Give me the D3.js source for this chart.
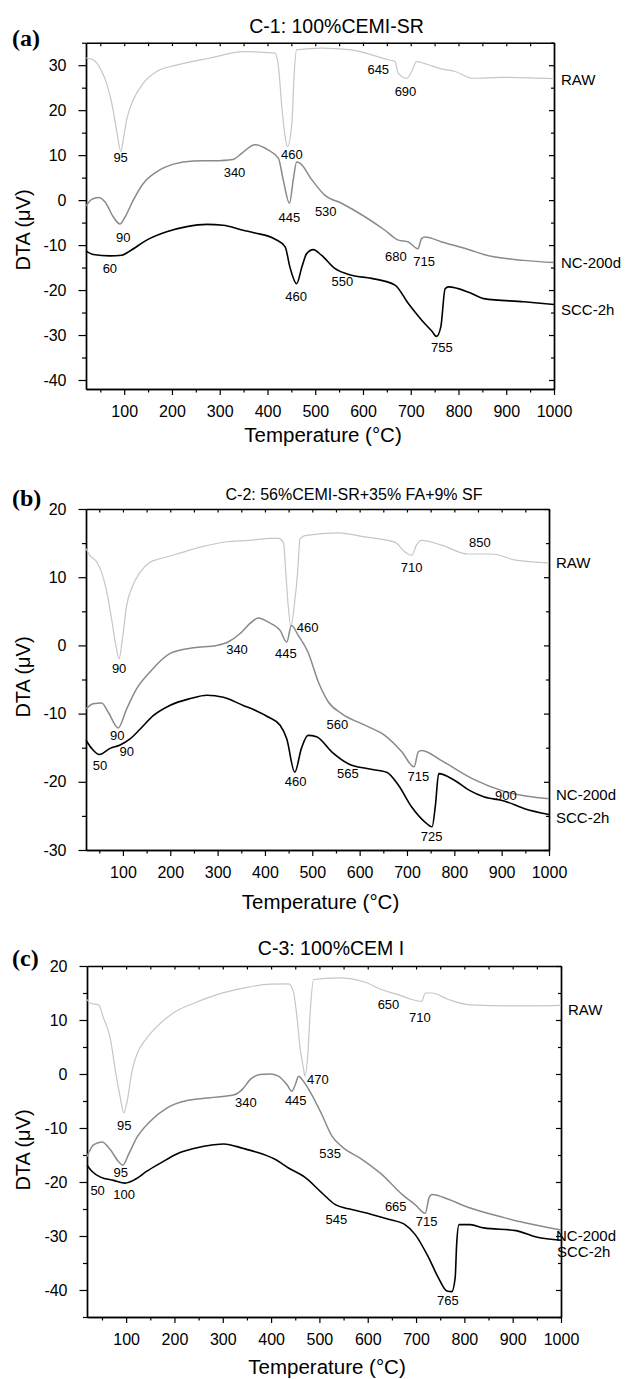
<!DOCTYPE html>
<html>
<head>
<meta charset="utf-8">
<script src="https://cdn.jsdelivr.net/npm/d3@7"></script>
<style>
  body { margin: 0; background: #fff; }
  svg text { font-family: "Liberation Sans", Arial, Helvetica, sans-serif; fill: #000; }
</style>
</head>
<body>
<svg id="fig" width="632" height="1379"></svg>
<script>
// ---- data ----
var seriesNames = ["RAW", "NC-200d", "SCC-2h"];
var panelTags = ["(a)", "(b)", "(c)"];
var panelTitles = ["C-1: 100%CEMI-SR", "C-2: 56%CEMI-SR+35% FA+9% SF", "C-3: 100%CEM I"];
var xMajorTicks = [100, 200, 300, 400, 500, 600, 700, 800, 900, 1000];
var xMinorTicks = [50, 150, 250, 350, 450, 550, 650, 750, 850, 950];

// C-1 : [temperature, DTA]
var c1Raw = [[20,31.6],[35,31.2],[53,28.6],[63,26],[74,21.5],[84,15.6],[93,10.8],[98,13.4],[105,17.8],[119,22.3],[140,26],[168,28.6],[210,30],[280,31.6],[349,33],[416,32.7],[423,29.7],[430,20.8],[437,14.1],[442,11.9],[451,17],[456,28.2],[461,33.4],[513,33.8],[576,33.4],[618,32.3],[653,31.2],[667,30.8],[674,28.2],[692,27.1],[702,28.6],[712,30.8],[737,30.1],[760,29.3],[793,28.6],[828,27.1],[895,27.3],[950,27.2],[1000,27]];
var c1Nc = [[20,-1.3],[32,0.15],[46,0.6],[60,-0.4],[77,-3.7],[91,-5.3],[102,-3.7],[119,0],[140,3.7],[168,6.3],[203,8],[245,8.7],[287,8.75],[328,9.05],[346,10.4],[374,12.3],[402,11.1],[423,9.3],[433,4.5],[446,-0.7],[454,4.5],[461,8.5],[468,8.2],[493,4.5],[520,1.1],[555,-0.7],[604,-3.7],[646,-6.7],[674,-8.9],[695,-9.3],[715,-10.8],[723,-8.5],[730,-8.2],[765,-9.3],[824,-11.1],[853,-12.1],[937,-13.4],[1000,-13.9]];
var c1Scc = [[20,-11.3],[35,-12.1],[70,-12.4],[95,-12.25],[112,-11.3],[147,-8.9],[189,-7.05],[231,-5.9],[273,-5.4],[307,-5.6],[349,-6.7],[374,-7.3],[416,-8.7],[437,-10.4],[447,-14.9],[461,-18.6],[472,-14.9],[482,-11.9],[496,-11],[513,-12.25],[541,-15.2],[576,-16.7],[618,-17.4],[667,-18.9],[695,-23],[723,-26.7],[744,-29.1],[754,-30.3],[763,-28.2],[772,-19.7],[779,-19.3],[824,-20.6],[853,-21.9],[937,-22.6],[1000,-23.2]];
var c1Peaks = [["95",92.5,9.5],["340",331,6.1],["90",98,-8.2],["60",70,-15.1],["460",451,10.2],["445",446,-3.9],["530",522,-2.6],["645",632,29.1],["690",689,24.3],["680",669,-12.6],["715",728,-13.6],["460",460,-21.4],["550",557,-18],["755",765,-32.7]];
var c1LabelAt = [26.9, -13.9, -24.3];
var c1YTicks = [-40, -30, -20, -10, 0, 10, 20, 30];

// C-2
var c2Raw = [[22,14.2],[30,13.2],[45,12.2],[55,10.7],[66,7.8],[76,3.9],[85,0],[92,-1.95],[99,1],[108,5.9],[118,8.3],[136,10.7],[157,12.2],[178,12.7],[214,13.4],[263,14.4],[319,15.2],[368,15.4],[411,15.7],[428,15.7],[439,15.1],[444,10.7],[449,5.9],[455,2.8],[462,5.9],[469,10.7],[474,15.6],[484,16.1],[555,16.5],[611,15.9],[675,15.1],[696,13.7],[710,13.2],[720,14.7],[731,15.4],[773,14.7],[829,13.4],[879,13.4],[930,12.5],[1000,12.1]];
var c2Nc = [[22,-9.3],[37,-8.55],[55,-8.45],[69,-9.8],[90,-12.1],[108,-9.3],[129,-6.35],[157,-3.9],[199,-1.2],[249,-0.35],[298,0],[322,0.5],[347,1.7],[368,3.2],[386,4],[407,3.4],[432,2.2],[446,0.5],[456,2.9],[470,1.5],[491,-1],[513,-5.4],[534,-8.3],[562,-10],[611,-11.7],[653,-13.2],[689,-15.6],[715,-17.8],[724,-15.6],[731,-15.4],[773,-16.9],[840,-19.6],[905,-21.4],[1000,-22.5]];
var c2Scc = [[22,-13.9],[34,-15.1],[50,-16],[73,-15.1],[94,-14.6],[115,-13.7],[136,-12.3],[164,-10.3],[199,-8.8],[242,-7.8],[277,-7.3],[312,-7.6],[354,-8.8],[379,-9.5],[407,-10.5],[432,-11.7],[446,-13.7],[463,-18.6],[477,-15.1],[491,-13.2],[509,-13.4],[541,-15.6],[576,-17.35],[618,-18.1],[657,-18.6],[682,-20.5],[710,-23.7],[738,-25.9],[753,-26.6],[760,-23.5],[767,-18.8],[801,-19.8],[833,-21.3],[862,-22.2],[905,-22.8],[947,-23.9],[1000,-24.8]];
var c2Peaks = [["90",92,-3.4],["340",341,-0.6],["445",444,-1.1],["460",490,2.7],["710",710,11.4],["850",854,15.1],["90",88,-13.2],["90",108,-15.6],["50",51.5,-17.6],["560",553,-11.6],["460",465,-20],["565",575,-18.8],["715",724,-19.2],["725",752,-28],["900",909,-22]];
var c2LabelAt = [12.1, -21.9, -25.3];
var c2YTicks = [-30, -20, -10, 0, 10, 20];

// C-3
var c3Raw = [[19,13.8],[26,13.1],[43,12.8],[53,10.4],[67,6.7],[78,0.5],[88,-4.4],[95,-7.2],[102,-5.1],[112,0.5],[122,3.6],[143,6.7],[171,9.4],[205,11.7],[240,13.1],[288,14.7],[343,15.9],[398,16.65],[436,16.7],[446,15.3],[453,11],[460,4.8],[467,1.1],[470,-0.4],[476,3.6],[481,11.6],[488,17.5],[539,17.8],[595,17],[629,15.6],[663,14.7],[691,13.8],[712,13.45],[719,15],[733,15],[767,13.8],[812,12.8],[900,12.6],[1000,12.7]];
var c3Nc = [[19,-15.3],[33,-13.1],[50,-12.6],[67,-14],[84,-16.2],[93,-16.9],[105,-14.9],[122,-11.8],[150,-8.75],[184,-6.3],[226,-4.9],[274,-4.4],[322,-3.9],[340,-2.9],[357,-1],[377,-0.1],[398,0],[415,-0.4],[433,-2],[443,-3.2],[450,-2],[457,-0.4],[464,-1],[484,-3.8],[505,-7.5],[526,-11.5],[546,-13.4],[588,-15.8],[629,-18.6],[671,-22.3],[698,-24.2],[719,-25.8],[727,-22.9],[733,-22.3],[767,-23.2],[799,-24.4],[882,-26.6],[923,-27.5],[1000,-28.9]];
var c3Scc = [[19,-16.9],[29,-18],[47,-19.1],[74,-19.7],[98,-20.2],[119,-19.5],[143,-18],[171,-16.5],[205,-14.8],[240,-13.8],[281,-13.1],[302,-12.95],[343,-13.8],[367,-14.4],[408,-15.8],[436,-17.4],[471,-19.2],[505,-22],[533,-24.2],[567,-25.1],[608,-26],[643,-26.9],[677,-27.9],[698,-29.7],[726,-34],[746,-37.7],[764,-40.2],[774,-40.3],[781,-37.7],[784,-31.6],[789,-27.9],[812,-27.9],[840,-28.5],[907,-29],[949,-30.2],[1000,-30.8]];
var c3Peaks = [["95",96,-9.5],["340",348,-5.2],["470",497,-0.9],["445",451,-4.9],["650",643,12.95],["710",708,10.5],["95",89,-18.2],["50",41,-21.5],["100",96,-22.3],["535",522,-14.7],["665",658,-24.5],["715",722,-27.3],["545",535,-26.9],["765",766,-42]];
var c3LabelAt = [11.9, -29.9, -32.8];
var c3YTicks = [-40, -30, -20, -10, 0, 10, 20];

// ---- layout ----
var lineColors = ["#c6c6c6", "#8a8a8a", "#000"];
var lineWidths = [1.2, 1.5, 1.6];

var panels = [
  { series: [c1Raw, c1Nc, c1Scc], peaks: c1Peaks, labelAt: c1LabelAt, yTicks: c1YTicks,
    xDomain: [20, 1000], yDomain: [-42, 35], left: 86, right: 554, top: 42.7, bottom: 389,
    titleX: 336.5, titleY: 32.5, titleSize: 19.5, tagY: 46.4, yTitleY: 230, xTitleY: 442, labelDx: [7, 7, 7] },
  { series: [c2Raw, c2Nc, c2Scc], peaks: c2Peaks, labelAt: c2LabelAt, yTicks: c2YTicks,
    xDomain: [22, 1000], yDomain: [-30, 20], left: 86, right: 549, top: 509, bottom: 850,
    titleX: 354, titleY: 500, titleSize: 16, tagY: 506.4, yTitleY: 677, xTitleY: 909, labelDx: [7, 7, 7] },
  { series: [c3Raw, c3Nc, c3Scc], peaks: c3Peaks, labelAt: c3LabelAt, yTicks: c3YTicks,
    xDomain: [19, 1000], yDomain: [-45, 20], left: 87, right: 561, top: 966, bottom: 1317,
    titleX: 331, titleY: 955, titleSize: 19.5, tagY: 966.4, yTitleY: 1150, xTitleY: 1374, labelDx: [7, -5, -4] }
];

var svg = d3.select("#fig");
var fmt = function(d) { return String(d); };

panels.forEach(function(p, pi) {
  var x = d3.scaleLinear().domain(p.xDomain).range([p.left, p.right]);
  var y = d3.scaleLinear().domain(p.yDomain).range([p.bottom, p.top]);
  var g = svg.append("g").attr("class", "panel");

  var yMinor = [];
  for (var v = Math.ceil(p.yDomain[0] / 5) * 5; v <= p.yDomain[1]; v += 5) {
    if (v % 10 !== 0) yMinor.push(v);
  }

  // bottom axis
  g.append("g").attr("transform", "translate(0," + p.bottom + ")")
    .call(d3.axisBottom(x).tickValues(xMinorTicks).tickSize(3.5).tickSizeOuter(0).tickFormat(""));
  g.append("g").attr("transform", "translate(0," + p.bottom + ")")
    .call(d3.axisBottom(x).tickValues(xMajorTicks).tickSize(6).tickSizeOuter(0).tickPadding(11).tickFormat(fmt));
  // top axis (ticks inward)
  g.append("g").attr("transform", "translate(0," + p.top + ")")
    .call(d3.axisTop(x).tickValues(xMajorTicks.concat(xMinorTicks)).tickSize(-3.5).tickSizeOuter(0).tickFormat(""));
  // left axis
  g.append("g").attr("transform", "translate(" + p.left + ",0)")
    .call(d3.axisLeft(y).tickValues(yMinor).tickSize(4).tickSizeOuter(0).tickFormat(""));
  g.append("g").attr("transform", "translate(" + p.left + ",0)")
    .call(d3.axisLeft(y).tickValues(p.yTicks).tickSize(7.5).tickSizeOuter(0).tickPadding(12).tickFormat(fmt));
  // right axis (ticks inward)
  g.append("g").attr("transform", "translate(" + p.right + ",0)")
    .call(d3.axisRight(y).tickValues(p.yTicks).tickSize(-5).tickSizeOuter(0).tickFormat(""));
  g.append("g").attr("transform", "translate(" + p.right + ",0)")
    .call(d3.axisRight(y).tickValues(yMinor).tickSize(-3).tickSizeOuter(0).tickFormat(""));

  g.selectAll(".domain").attr("stroke", "#000").attr("stroke-width", 1.4);
  g.selectAll(".tick line").attr("stroke", "#000").attr("stroke-width", 1.2);
  g.selectAll(".tick text").style("font-size", "16px").style("font-family", "Liberation Sans, Arial, sans-serif");

  // curves
  var line = d3.line()
    .x(function(d) { return x(d[0]); })
    .y(function(d) { return y(d[1]); })
    .curve(d3.curveMonotoneX);

  p.series.forEach(function(s, si) {
    g.append("path")
      .datum(s)
      .attr("d", line)
      .attr("fill", "none")
      .attr("stroke", lineColors[si])
      .attr("stroke-width", lineWidths[si])
      .attr("stroke-linejoin", "round");
  });

  // peak temperatures
  g.selectAll(".peak")
    .data(p.peaks)
    .enter().append("text")
    .attr("class", "peak")
    .attr("x", function(d) { return x(d[1]); })
    .attr("y", function(d) { return y(d[2]); })
    .attr("dy", "0.36em")
    .attr("text-anchor", "middle")
    .style("font-size", "13px")
    .text(function(d) { return d[0]; });

  // series names at right
  seriesNames.forEach(function(name, si) {
    g.append("text")
      .attr("x", p.right + p.labelDx[si])
      .attr("y", y(p.labelAt[si]))
      .attr("dy", "0.36em")
      .style("font-size", "15px")
      .text(name);
  });

  // titles
  g.append("text")
    .attr("x", p.titleX).attr("y", p.titleY)
    .attr("text-anchor", "middle")
    .style("font-size", p.titleSize + "px")
    .text(panelTitles[pi]);

  g.append("text")
    .attr("x", 12).attr("y", p.tagY)
    .style("font-family", "Liberation Serif, 'Times New Roman', serif")
    .style("font-weight", "bold")
    .style("font-size", "24px")
    .text(panelTags[pi]);

  g.append("text")
    .attr("transform", "translate(30," + p.yTitleY + ") rotate(-90)")
    .attr("text-anchor", "middle")
    .style("font-size", "20px")
    .text("DTA (\u03bcV)");

  g.append("text")
    .attr("x", (p.left + p.right) / 2 + 3)
    .attr("y", p.xTitleY)
    .attr("text-anchor", "middle")
    .style("font-size", "20.5px")
    .text("Temperature (\u00b0C)");
});
</script>
</body>
</html>
